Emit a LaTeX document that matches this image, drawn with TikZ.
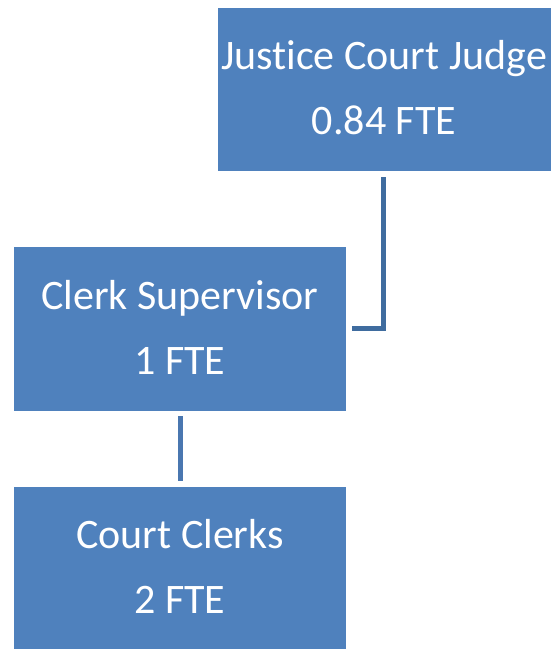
\documentclass[tikz,border=0pt]{standalone}
\usepackage{fontspec}
\setmainfont[RawFeature={-liga;-dlig}]{Carlito}
\definecolor{boxblue}{HTML}{4F81BD}
\definecolor{linkblue}{HTML}{3F6C9F}
\definecolor{linkblue2}{HTML}{4A77B0}
\begin{document}
\begin{tikzpicture}[x=1pt,y=-1pt,
  orgbox/.style={fill=boxblue,draw=none,inner sep=0pt,anchor=north west},
  lbl/.style={text=white,font=\fontsize{42}{48}\selectfont,anchor=base,inner sep=0pt},
  link/.style={draw=linkblue,line width=5pt}]
\useasboundingbox (0,0) rectangle (551,649);
\node[orgbox,minimum width=334pt,minimum height=163pt] (judge) at (218,8) {};
\node[orgbox,minimum width=332pt,minimum height=164pt] (sup) at (14,247) {};
\node[orgbox,minimum width=332pt,minimum height=164pt] (clerks) at (14,487) {};
\node[lbl] (j1) at (384,69) {Justice Court Judge};
\node[lbl] (j2) at (384,134) {0.84 FTE};
\node[lbl] (s1) at (180,309) {Clerk Supervisor};
\node[lbl] (s2) at (180,374) {1 FTE};
\node[lbl] (c1) at (180,548) {Court Clerks};
\node[lbl] (c2) at (180,613) {2 FTE};
\coordinate (se) at ([xshift=6pt]sup.east);
\draw[link] ([yshift=-6pt]judge.south -| 383,0) |- (se |- 0,328);
\draw[link,draw=linkblue2] ([yshift=-5pt]sup.south -| 180,0) -- ([yshift=6pt]clerks.north -| 180,0);
\end{tikzpicture}
\end{document}
